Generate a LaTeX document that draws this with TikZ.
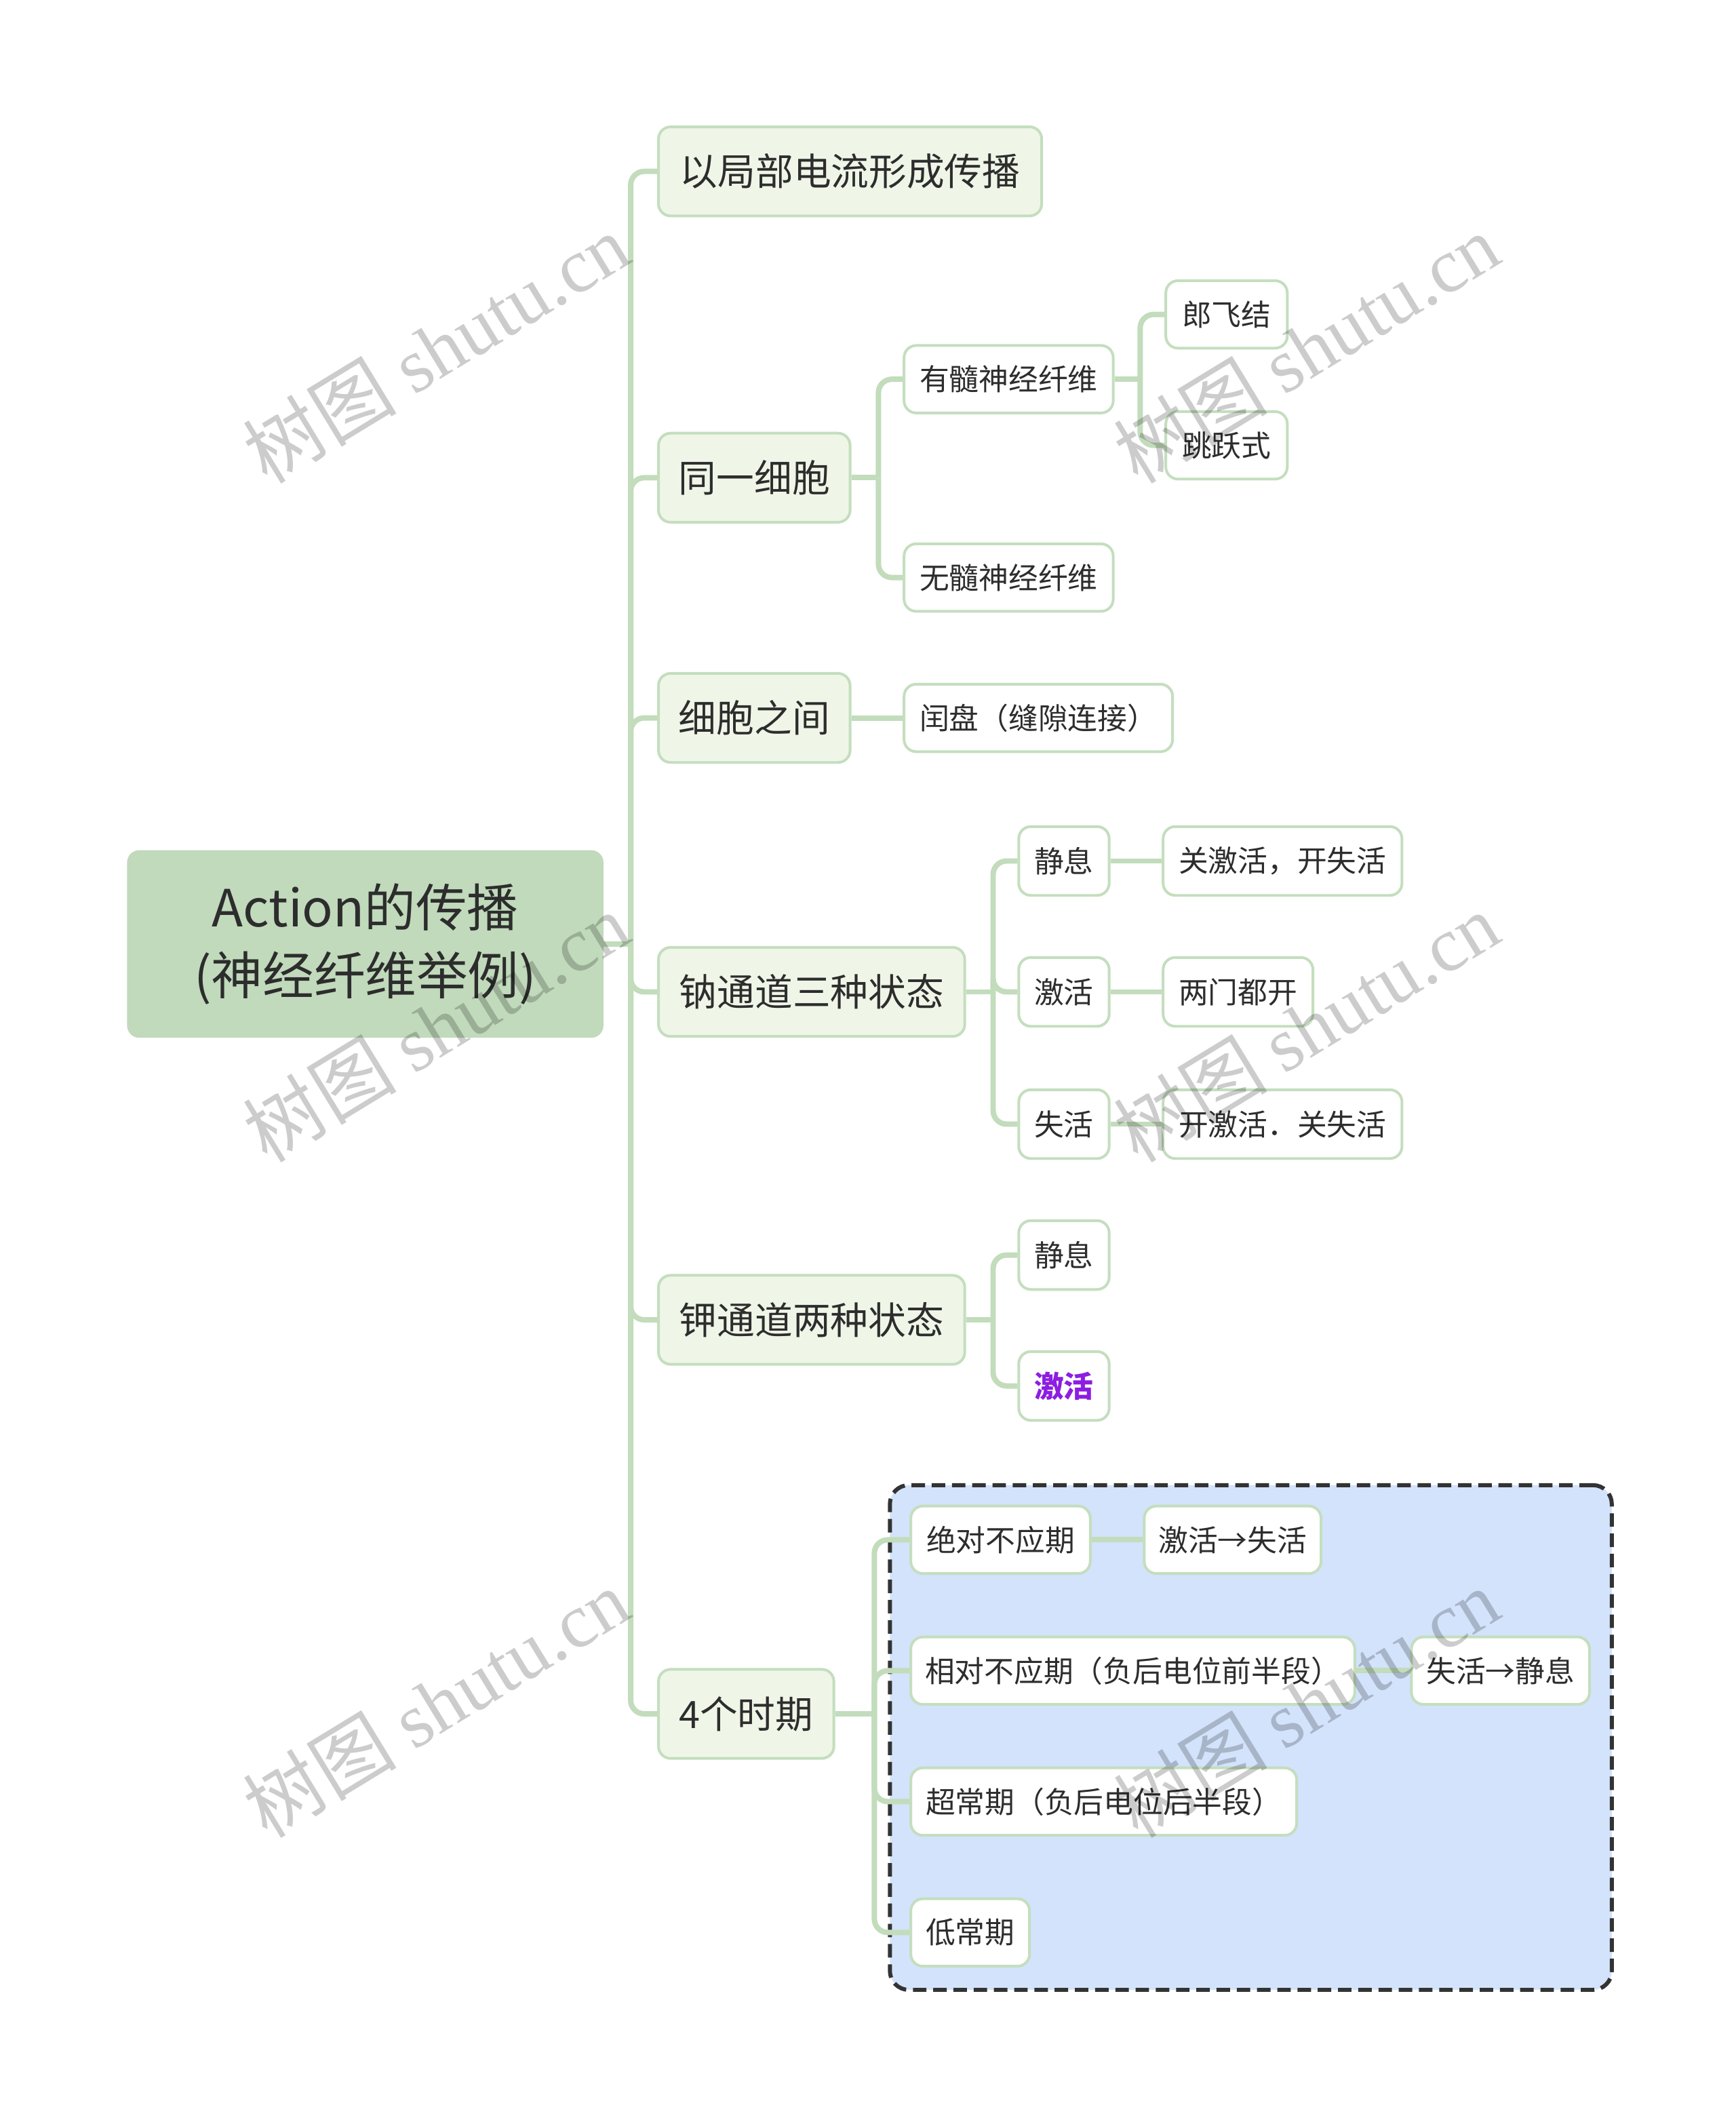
\documentclass[tikz,border=0pt]{standalone}
\usepackage{fontspec}
\setmainfont{Noto Sans CJK SC}
\newfontfamily\wmlatin{Liberation Serif}
\usetikzlibrary{calc}
\definecolor{conncol}{RGB}{194,220,188}
\definecolor{bordercol}{RGB}{196,222,190}
\definecolor{rootfill}{RGB}{192,218,187}
\definecolor{lonefill}{RGB}{239,246,232}
\definecolor{txt}{RGB}{45,45,45}
\definecolor{boxfill}{RGB}{211,227,251}
\definecolor{boxline}{RGB}{51,51,51}
\definecolor{purp}{RGB}{140,30,225}
\pgfdeclarelayer{bglayer}
\pgfdeclarelayer{boxlayer}
\pgfdeclarelayer{connlayer}
\pgfsetlayers{bglayer,boxlayer,connlayer,main}
\tikzset{
  rootnode/.style={fill=rootfill, rounded corners=9pt, anchor=west, minimum height=139pt,
    minimum width=353pt, text=txt, align=center, inner sep=0pt,
    font=\fontsize{38}{50}\selectfont},
  lone/.style={draw=bordercol, line width=2pt, fill=lonefill, rounded corners=9pt, anchor=west,
    minimum height=66pt, text=txt, inner sep=0pt, font=\fontsize{28}{34}\selectfont},
  ltwo/.style={draw=bordercol, line width=2pt, fill=white, rounded corners=9pt, anchor=west,
    minimum height=50pt, text=txt, inner sep=0pt, font=\fontsize{22}{26}\selectfont},
  conn/.style={draw=conncol, line width=4pt, rounded corners=10pt},
  groupbox/.style={draw=boxline, fill=boxfill, line width=3pt, dash pattern=on 10pt off 5pt,
    rounded corners=14pt, anchor=north west, inner sep=0pt},
  wmark/.style={text=black, text opacity=0.2, rotate=31.4, inner sep=0pt,
    font=\fontsize{57}{57}\selectfont}
}
\begin{document}
\begin{tikzpicture}[x=1pt,y=-1pt]
\useasboundingbox (0,0) rectangle (1286.56,1568);
\begin{pgfonlayer}{bglayer}
\fill[white] (0,0) rectangle (1286.56,1568);
\end{pgfonlayer}

% root
\node[rootnode] (root) at (94,699.5) {Action的传播\\(神经纤维举例)};

% level 1
\node[lone, minimum width=284pt] (a1) at (487,127) {以局部电流形成传播};
\node[lone, minimum width=142pt] (a2) at (487,354) {同一细胞};
\node[lone, minimum width=142pt] (a3) at (487,532) {细胞之间};
\node[lone, minimum width=227pt] (a4) at (487,735) {钠通道三种状态};
\node[lone, minimum width=227pt] (a5) at (487,978) {钾通道两种状态};
\node[lone, minimum width=130pt] (a6) at (487,1270) {4个时期};

% under 同一细胞
\node[ltwo, minimum width=155pt] (b1) at (669,281) {有髓神经纤维};
\node[ltwo, minimum width=155pt] (b2) at (669,428) {无髓神经纤维};
\node[ltwo, minimum width=90pt] (c1) at (863,233) {郎飞结};
\node[ltwo, minimum width=90pt] (c2) at (863,330) {跳跃式};

% under 细胞之间
\node[ltwo, minimum width=199pt] (b3) at (669,532) {闰盘（缝隙连接）};

% under 钠通道
\node[ltwo, minimum width=67pt, minimum height=51pt] (n1) at (754,638) {静息};
\node[ltwo, minimum width=67pt, minimum height=51pt] (n2) at (754,735) {激活};
\node[ltwo, minimum width=67pt, minimum height=51pt] (n3) at (754,833) {失活};
\node[ltwo, minimum width=177pt, minimum height=51pt] (m1) at (861,638) {关激活，开失活};
\node[ltwo, minimum width=111pt, minimum height=51pt] (m2) at (861,735) {两门都开};
\node[ltwo, minimum width=177pt, minimum height=51pt] (m3) at (861,833) {开激活．关失活};

% under 钾通道
\node[ltwo, minimum width=67pt, minimum height=51pt] (k1) at (754,930) {静息};
\node[ltwo, minimum width=67pt, minimum height=51pt, text=purp,
  font=\fontsize{22}{26}\selectfont\bfseries] (k2) at (754,1027) {激活};

% group box
\begin{pgfonlayer}{boxlayer}
\node[groupbox, minimum width=535pt, minimum height=374pt] (grp) at (658,1099) {};
\end{pgfonlayer}

% under 4个时期
\node[ltwo, minimum width=133pt] (p1) at (674,1141) {绝对不应期};
\node[ltwo, minimum width=131pt] (q1) at (847,1141) {激活→失活};
\node[ltwo, minimum width=329pt] (p2) at (674,1238) {相对不应期（负后电位前半段）};
\node[ltwo, minimum width=132pt] (q2) at (1045,1238) {失活→静息};
\node[ltwo, minimum width=286pt] (p3) at (674,1335) {超常期（负后电位后半段）};
\node[ltwo, minimum width=88pt] (p4) at (674,1432) {低常期};

% junctions
\coordinate (jr) at ($(root.east)+(20,0)$);
\coordinate (j2) at ($(a2.east)+(20,0)$);
\coordinate (jb) at ($(b1.east)+(19,0)$);
\coordinate (j4) at ($(a4.east)+(20,0)$);
\coordinate (j5) at ($(a5.east)+(20,0)$);
\coordinate (j6) at ($(a6.east)+(29,0)$);

\begin{pgfonlayer}{connlayer}
\draw[conn] (root.east) -- (jr);
\foreach \c in {a1,a2,a3,a4,a5,a6} {\draw[conn] (jr) |- (\c.west);}
\draw[conn] (a2.east) -- (j2);
\foreach \c in {b1,b2} {\draw[conn] (j2) |- (\c.west);}
\draw[conn] (b1.east) -- (jb);
\foreach \c in {c1,c2} {\draw[conn] (jb) |- (\c.west);}
\draw[conn] (a3.east) -- (b3.west);
\draw[conn] (a4.east) -- (j4);
\foreach \c in {n1,n2,n3} {\draw[conn] (j4) |- (\c.west);}
\draw[conn] (n1.east) -- (m1.west);
\draw[conn] (n2.east) -- (m2.west);
\draw[conn] (n3.east) -- (m3.west);
\draw[conn] (a5.east) -- (j5);
\foreach \c in {k1,k2} {\draw[conn] (j5) |- (\c.west);}
\draw[conn] (a6.east) -- (j6);
\foreach \c in {p1,p2,p3,p4} {\draw[conn] (j6) |- (\c.west);}
\draw[conn] (p1.east) -- (q1.west);
\draw[conn] (p2.east) -- (q2.west);
\end{pgfonlayer}

% watermarks
\node[wmark] (w1) at (323,258) {树图 {\wmlatin shutu.cn}};
\node[wmark] (w2) at (968,258) {树图 {\wmlatin shutu.cn}};
\node[wmark] (w3) at (323,761) {树图 {\wmlatin shutu.cn}};
\node[wmark] (w4) at (968,761) {树图 {\wmlatin shutu.cn}};
\node[wmark] (w5) at (323,1262) {树图 {\wmlatin shutu.cn}};
\node[wmark] (w6) at (968,1262) {树图 {\wmlatin shutu.cn}};
\end{tikzpicture}
\end{document}
